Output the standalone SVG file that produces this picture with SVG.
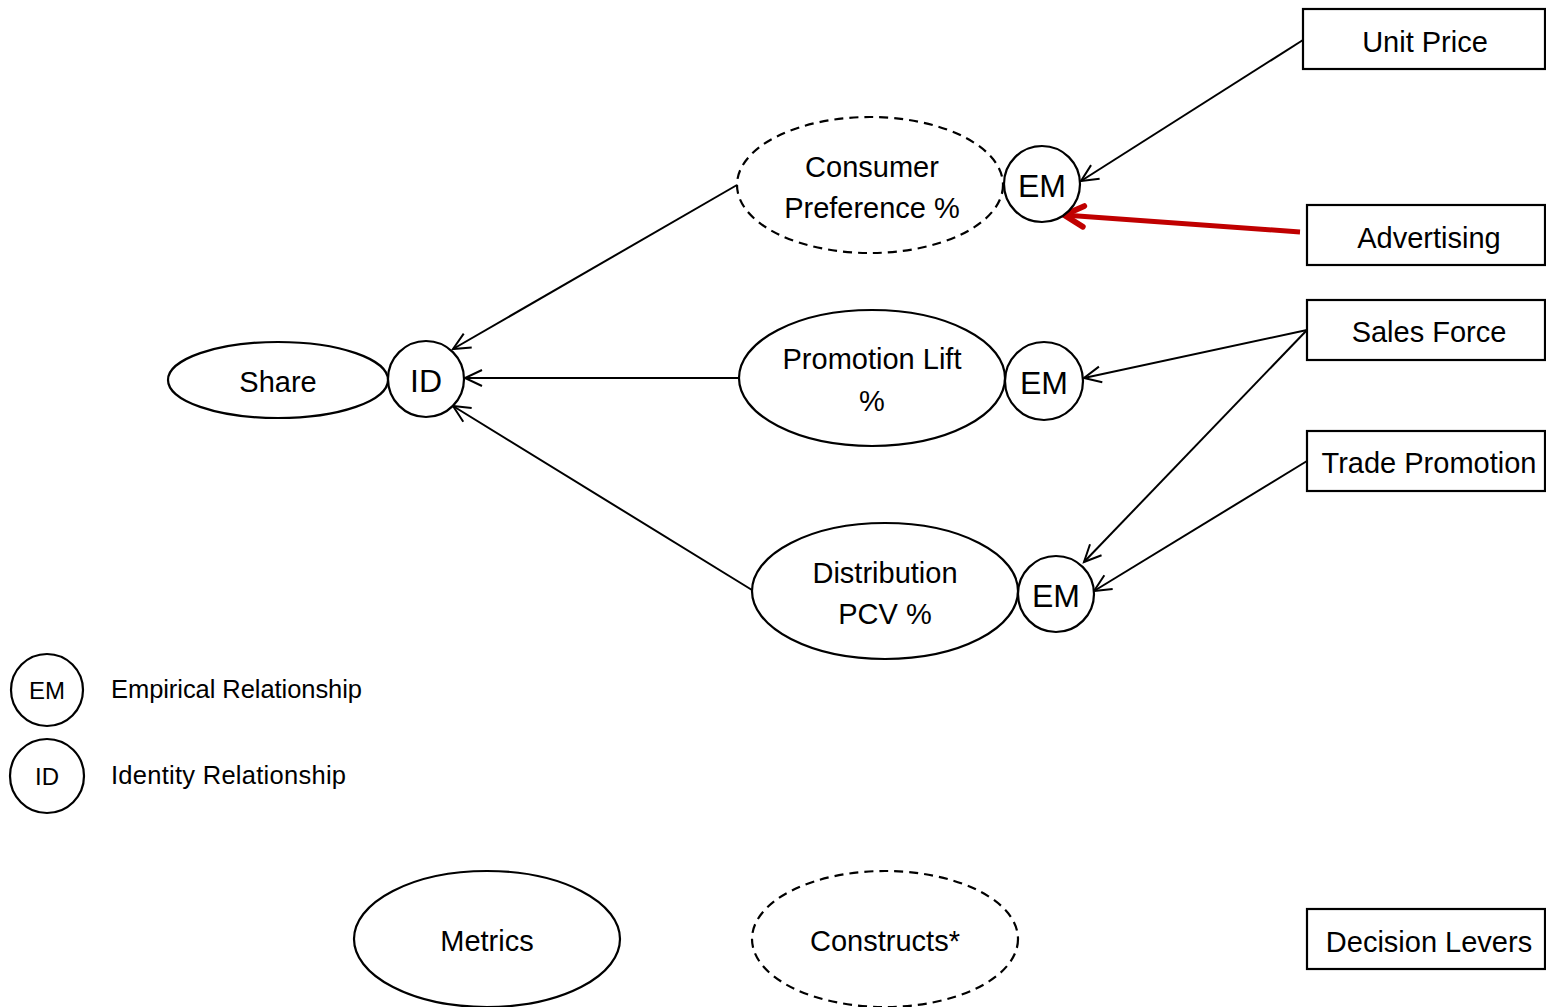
<svg xmlns="http://www.w3.org/2000/svg" width="1546" height="1007" viewBox="0 0 1546 1007">
<style>
text{font-family:"Liberation Sans",Arial,sans-serif;fill:#000;text-anchor:middle}
.t{font-size:29px}
.em{font-size:32px}
.lg{font-size:24px}
.lt{font-size:25.5px;text-anchor:start}
.sh{fill:#fff;stroke:#000;stroke-width:2.2}
.d{stroke-dasharray:9,6}
.c{fill:none;stroke:#000;stroke-width:2}
.r{fill:none;stroke:#c00000;stroke-width:5}
</style>
<defs>
<marker id="a" markerUnits="userSpaceOnUse" markerWidth="22" markerHeight="22" refX="18" refY="9" orient="auto" viewBox="0 0 22 18">
<path d="M1,1 L18,9 L1,17" fill="none" stroke="#000" stroke-width="2"/>
</marker>
<marker id="ar" markerUnits="userSpaceOnUse" markerWidth="30" markerHeight="30" refX="20" refY="12" orient="auto" viewBox="0 0 26 24">
<path d="M3,3 L20,12 L3,21" fill="none" stroke="#c00000" stroke-width="5" stroke-linecap="round"/>
</marker>
</defs>
<rect width="1546" height="1007" fill="#fff"/>
<g id="connectors">
<line class="c" x1="1303" y1="40" x2="1081" y2="181" marker-end="url(#a)"/>
<line class="r" x1="1300" y1="232" x2="1064" y2="215" marker-end="url(#ar)"/>
<line class="c" x1="1307" y1="330" x2="1084" y2="378" marker-end="url(#a)"/>
<line class="c" x1="1307" y1="330" x2="1084" y2="562" marker-end="url(#a)"/>
<line class="c" x1="1307" y1="461" x2="1094" y2="591" marker-end="url(#a)"/>
<line class="c" x1="737" y1="185" x2="453" y2="349" marker-end="url(#a)"/>
<line class="c" x1="740" y1="378" x2="465" y2="378" marker-end="url(#a)"/>
<line class="c" x1="752" y1="590" x2="453" y2="406" marker-end="url(#a)"/>
</g>
<g id="unit-price"><rect class="sh" x="1303" y="9" width="242" height="60"/><text class="t" x="1425" y="52">Unit Price</text></g>
<g id="advertising"><rect class="sh" x="1307" y="205" width="238" height="60"/><text class="t" x="1429" y="248">Advertising</text></g>
<g id="sales-force"><rect class="sh" x="1307" y="300" width="238" height="60"/><text class="t" x="1429" y="342">Sales Force</text></g>
<g id="trade-promotion"><rect class="sh" x="1307" y="431" width="238" height="60"/><text class="t" x="1429" y="473">Trade Promotion</text></g>
<g id="consumer-preference"><ellipse class="sh d" cx="870" cy="185" rx="133" ry="68"/><text class="t" x="872" y="177">Consumer</text><text class="t" x="872" y="218">Preference %</text></g>
<g id="em1"><circle class="sh" cx="1042" cy="184" r="38"/><text class="em" x="1042" y="197">EM</text></g>
<g id="promotion-lift"><ellipse class="sh" cx="872" cy="378" rx="133" ry="68"/><text class="t" x="872" y="369">Promotion Lift</text><text class="t" x="872" y="411">%</text></g>
<g id="em2"><circle class="sh" cx="1044" cy="381" r="39"/><text class="em" x="1044" y="394">EM</text></g>
<g id="distribution"><ellipse class="sh" cx="885" cy="591" rx="133" ry="68"/><text class="t" x="885" y="583">Distribution</text><text class="t" x="885" y="624">PCV %</text></g>
<g id="em3"><circle class="sh" cx="1056" cy="594" r="38"/><text class="em" x="1056" y="607">EM</text></g>
<g id="share"><ellipse class="sh" cx="278" cy="380" rx="110" ry="38"/><text class="t" x="278" y="392">Share</text></g>
<g id="id"><circle class="sh" cx="426" cy="379" r="38"/><text class="em" x="426" y="392">ID</text></g>
<g id="legend-em"><circle class="sh" cx="47" cy="690" r="36"/><text class="lg" x="47" y="699">EM</text><text class="lt" x="111" y="698" textLength="251">Empirical Relationship</text></g>
<g id="legend-id"><circle class="sh" cx="47" cy="776" r="37"/><text class="lg" x="47" y="785">ID</text><text class="lt" x="111" y="784" textLength="235">Identity Relationship</text></g>
<g id="metrics"><ellipse class="sh" cx="487" cy="939" rx="133" ry="68"/><text class="t" x="487" y="951">Metrics</text></g>
<g id="constructs"><ellipse class="sh d" cx="885" cy="939" rx="133" ry="68"/><text class="t" x="885" y="951">Constructs*</text></g>
<g id="decision-levers"><rect class="sh" x="1307" y="909" width="238" height="60"/><text class="t" x="1429" y="952">Decision Levers</text></g>
</svg>
